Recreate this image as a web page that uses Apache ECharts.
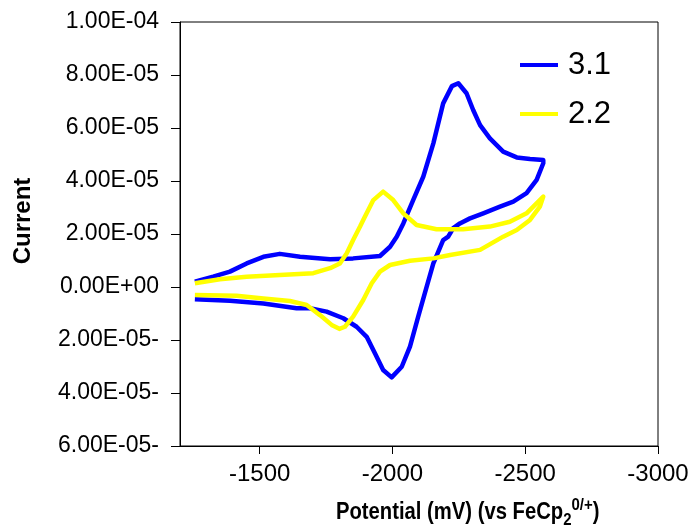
<!DOCTYPE html>
<html>
<head>
<meta charset="utf-8">
<script src="https://cdn.jsdelivr.net/npm/echarts@6/dist/echarts.min.js"></script>
<style>
  html, body { margin: 0; padding: 0; background: #fff; }
  #chart { width: 698px; height: 529px; }
</style>
</head>
<body>
<div id="chart"></div>
<script>
// Cyclic voltammograms: potential in mV vs FeCp2 0/+, current in A
const seriesNames = ['3.1', '2.2'];

const potential31 = [
  -1256, -1325, -1388, -1451, -1514, -1576, -1652, -1765, -1852, -1953,
  -1991, -2016, -2041, -2078, -2116, -2154, -2191, -2224, -2248, -2279,
  -2304, -2330, -2367, -2417, -2468, -2518, -2568,
  -2568, -2543, -2505, -2455, -2405, -2342, -2292, -2254, -2229, -2210,
  -2191, -2154, -2129, -2097, -2066, -2035, -1997, -1965, -1934, -1903,
  -1865, -1815, -1752, -1689, -1639, -1514, -1388, -1256
];
const current31 = [
  0.20e-5, 0.39e-5, 0.58e-5, 0.89e-5, 1.14e-5, 1.25e-5, 1.14e-5, 1.05e-5, 1.08e-5, 1.17e-5,
  1.52e-5, 1.90e-5, 2.40e-5, 3.28e-5, 4.16e-5, 5.42e-5, 6.93e-5, 7.58e-5, 7.69e-5, 7.31e-5,
  6.68e-5, 6.11e-5, 5.61e-5, 5.11e-5, 4.89e-5, 4.83e-5, 4.79e-5,
  4.67e-5, 4.04e-5, 3.54e-5, 3.22e-5, 3.03e-5, 2.78e-5, 2.59e-5, 2.40e-5, 2.22e-5, 1.90e-5,
  1.77e-5, 0.89e-5, 0.01e-5, -1.12e-5, -2.25e-5, -3.01e-5, -3.41e-5, -3.13e-5, -2.50e-5, -1.88e-5,
  -1.50e-5, -1.18e-5, -0.93e-5, -0.80e-5, -0.80e-5, -0.62e-5, -0.52e-5, -0.46e-5
];

const potential22 = [
  -1256, -1350, -1451, -1576, -1702, -1765, -1802, -1828, -1852, -1878,
  -1890, -1928, -1965, -2003, -2041, -2091, -2166, -2266, -2367, -2442,
  -2505, -2555, -2568,
  -2555, -2518, -2468, -2417, -2330, -2217, -2154, -2066, -1991, -1953,
  -1922, -1890, -1852, -1821, -1800, -1771, -1727, -1677, -1614, -1514,
  -1413, -1256
];
const current22 = [
  0.14e-5, 0.29e-5, 0.39e-5, 0.45e-5, 0.52e-5, 0.71e-5, 0.89e-5, 1.27e-5, 1.77e-5, 2.28e-5,
  2.53e-5, 3.28e-5, 3.60e-5, 3.28e-5, 2.78e-5, 2.34e-5, 2.18e-5, 2.18e-5, 2.28e-5, 2.46e-5,
  2.78e-5, 3.28e-5, 3.41e-5,
  3.03e-5, 2.53e-5, 2.15e-5, 1.90e-5, 1.40e-5, 1.21e-5, 1.08e-5, 0.99e-5, 0.83e-5, 0.58e-5,
  0.14e-5, -0.49e-5, -1.12e-5, -1.50e-5, -1.58e-5, -1.43e-5, -1.06e-5, -0.68e-5, -0.53e-5, -0.43e-5,
  -0.33e-5, -0.30e-5
];

const xTicks = [-1500, -2000, -2500, -3000];
const xTickLabels = ['-1500', '-2000', '-2500', '-3000'];
const yTicks = [-6e-5, -4e-5, -2e-5, 0, 2e-5, 4e-5, 6e-5, 8e-5, 1e-4];
const yTickLabels = ['6.00E-05-', '4.00E-05-', '2.00E-05-', '0.00E+00', '2.00E-05',
                     '4.00E-05', '6.00E-05', '8.00E-05', '1.00E-04'];

const FONT = '"Liberation Sans", Arial, sans-serif';

function pairs(xs, ys) {
  return xs.map((x, i) => [x, ys[i]]);
}

function lookupLabel(ticks, labels, v) {
  const i = ticks.findIndex(t => Math.abs(t - v) < 1e-9 * Math.max(1, Math.abs(t)));
  return i >= 0 ? labels[i] : '';
}

const chart = echarts.init(document.getElementById('chart'), null, { renderer: 'canvas' });

chart.setOption({
  animation: false,
  backgroundColor: '#fff',
  grid: {
    left: 180, right: 40, top: 22, bottom: 83,
    show: true, borderColor: '#000', borderWidth: 1
  },
  graphic: [
    {
      // y-axis title, rotated to read bottom-to-top
      type: 'text',
      x: 23,
      y: 221,
      rotation: Math.PI / 2,
      style: {
        text: 'Current',
        font: 'bold 24px ' + FONT,
        fill: '#000',
        align: 'center',
        verticalAlign: 'middle'
      }
    },
    {
      // x-axis title with subscript / superscript
      type: 'text',
      x: 336,
      y: 513,
      scaleX: 0.88,
      style: {
        text: '{a|Potential (mV) (vs FeCp}{s|2}{p|0/+}{a|)}',
        align: 'left',
        verticalAlign: 'middle',
        rich: {
          a: { fontFamily: FONT, fontSize: 23, fontWeight: 'bold', fill: '#000' },
          s: { fontFamily: FONT, fontSize: 17, fontWeight: 'bold', fill: '#000', padding: [14, 0, 0, 0] },
          p: { fontFamily: FONT, fontSize: 17, fontWeight: 'bold', fill: '#000', padding: [0, 0, 16, 0] }
        }
      }
    }
  ],
  legend: {
    orient: 'vertical',
    left: 515,
    top: 42,
    itemWidth: 38,
    itemHeight: 4,
    itemGap: 13,
    icon: 'rect',
    textStyle: { fontFamily: FONT, fontSize: 31, color: '#000', lineHeight: 36, padding: [0, 0, 0, 5] },
    data: seriesNames
  },
  xAxis: {
    type: 'value',
    min: -3000,
    max: -1200,
    inverse: true,
    splitLine: { show: false },
    axisLine: { show: true, onZero: false, lineStyle: { color: '#000', width: 1 } },
    axisTick: { show: true, inside: false, length: 8, customValues: xTicks, lineStyle: { color: '#000', width: 1 } },
    axisLabel: {
      customValues: xTicks,
      margin: 16,
      fontFamily: FONT, fontSize: 24, color: '#000',
      formatter: v => lookupLabel(xTicks, xTickLabels, v)
    }
  },
  yAxis: {
    type: 'value',
    min: -6e-5,
    max: 1e-4,
    interval: 2e-5,
    splitLine: { show: false },
    axisLine: { show: true, onZero: false, lineStyle: { color: '#000', width: 1 } },
    axisTick: { show: true, inside: false, length: 9, lineStyle: { color: '#000', width: 1 } },
    axisLabel: {
      margin: 21,
      fontFamily: FONT, fontSize: 23, color: '#000',
      formatter: v => lookupLabel(yTicks, yTickLabels, v)
    }
  },
  series: [
    {
      name: seriesNames[0],
      type: 'line',
      data: pairs(potential31, current31),
      showSymbol: false,
      smooth: false,
      color: '#0000FF',
      lineStyle: { color: '#0000FF', width: 4.5, join: 'round' }
    },
    {
      name: seriesNames[1],
      type: 'line',
      data: pairs(potential22, current22),
      showSymbol: false,
      smooth: false,
      color: '#FFFF00',
      lineStyle: { color: '#FFFF00', width: 4.5, join: 'round' }
    }
  ]
});
</script>
</body>
</html>
